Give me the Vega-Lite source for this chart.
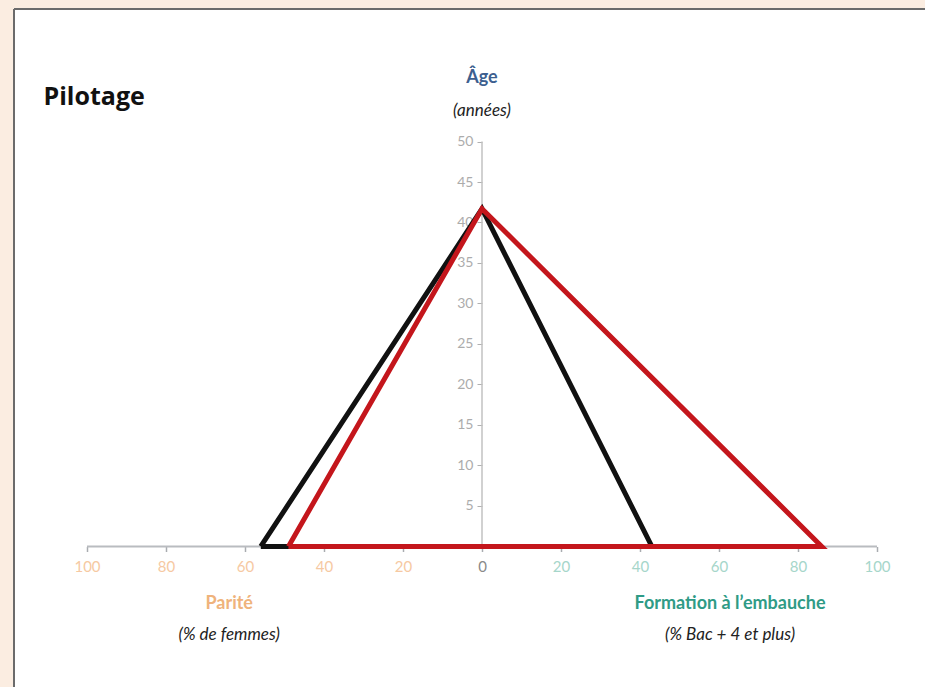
{
  "$schema": "https://vega.github.io/schema/vega-lite/v6.json",
  "width": 911,
  "height": 678,
  "autosize": {"type": "none"},
  "padding": {"left": 14, "top": 9, "right": 0, "bottom": 0},
  "background": "#fbede1",
  "view": {"fill": "white", "stroke": null},
  "config": {"font": "Lato"},
  "datasets": {
    "tri": [
      {"serie": "Référence", "i": 0, "x": -56, "y": 0},
      {"serie": "Référence", "i": 1, "x": 0, "y": 41.7},
      {"serie": "Référence", "i": 2, "x": 43, "y": 0},
      {"serie": "Référence", "i": 3, "x": -56, "y": 0},
      {"serie": "Pilotage", "i": 0, "x": -49, "y": 0},
      {"serie": "Pilotage", "i": 1, "x": 0, "y": 41.7},
      {"serie": "Pilotage", "i": 2, "x": 86, "y": 0},
      {"serie": "Pilotage", "i": 3, "x": -49, "y": 0}
    ],
    "titre": [{"t": "Pilotage", "x": -111, "y": 55.5}],
    "age": [{"t": "Âge", "x": 0, "y": 57.9}],
    "parite": [{"t": "Parité", "x": -64, "y": -7.1}],
    "formation": [{"t": "Formation à l’embauche", "x": 62.8, "y": -7.1}],
    "subs": [
      {"t": "(années)", "x": 0, "y": 53.8},
      {"t": "(% de femmes)", "x": -64, "y": -10.9},
      {"t": "(% Bac + 4 et plus)", "x": 62.8, "y": -10.9}
    ],
    "hline": [{"x": -100, "x2": 100, "y": 0}],
    "vline": [{"x": 0, "y": 0, "y2": 50}],
    "cadreH": [{"x": -118.48, "x2": 112.15, "y": 66.36}],
    "cadreV": [{"x": -118.48, "y": -17.35, "y2": 66.36}]
  },
  "layer": [
    {
      "data": {"name": "hline"},
      "mark": {"type": "rule", "color": "#b9bcc0", "strokeWidth": 2},
      "encoding": {
        "x": {"field": "x", "type": "quantitative", "scale": {"domain": [-118.48, 112.15], "nice": false, "zero": false},
          "axis": {"orient": "bottom", "offset": -140.5, "domain": false, "grid": false,
            "values": [-100, -80, -60, -40, -20, 0, 20, 40, 60, 80, 100],
            "labelExpr": "abs(datum.value)", "labelFontSize": 15, "labelPadding": 8,
            "tickColor": "#a9acb0", "tickSize": 5, "tickWidth": 1.5, "title": null,
            "labelColor": {"condition": [{"test": "datum.value < 0", "value": "#f6c9a2"}, {"test": "datum.value == 0", "value": "#8a8a8a"}], "value": "#a6d6ca"}}},
        "x2": {"field": "x2"},
        "y": {"field": "y", "type": "quantitative", "scale": {"domain": [-17.35, 66.36], "nice": false, "zero": false},
          "axis": {"orient": "left", "offset": -468, "domain": false, "grid": false,
            "values": [5, 10, 15, 20, 25, 30, 35, 40, 45, 50],
            "labelFontSize": 14, "labelColor": "#acacac", "labelPadding": 4,
            "tickColor": "#b0b0b0", "tickSize": 5, "title": null}}
      }
    },
    {
      "data": {"name": "cadreH"},
      "mark": {"type": "rule", "color": "#6b6b6b", "strokeWidth": 2},
      "encoding": {
        "x": {"field": "x", "type": "quantitative"},
        "x2": {"field": "x2"},
        "y": {"field": "y", "type": "quantitative"}
      }
    },
    {
      "data": {"name": "cadreV"},
      "mark": {"type": "rule", "color": "#6b6b6b", "strokeWidth": 2},
      "encoding": {
        "x": {"field": "x", "type": "quantitative"},
        "y": {"field": "y", "type": "quantitative"},
        "y2": {"field": "y2"}
      }
    },
    {
      "data": {"name": "vline"},
      "mark": {"type": "rule", "color": "#c2c2c2", "strokeWidth": 1.5},
      "encoding": {
        "x": {"field": "x", "type": "quantitative"},
        "y": {"field": "y", "type": "quantitative"},
        "y2": {"field": "y2"}
      }
    },
    {
      "data": {"name": "tri"},
      "mark": {"type": "line", "strokeWidth": 5, "strokeJoin": "miter", "strokeCap": "butt"},
      "encoding": {
        "x": {"field": "x", "type": "quantitative"},
        "y": {"field": "y", "type": "quantitative"},
        "order": {"field": "i", "type": "quantitative"},
        "detail": {"field": "serie"},
        "color": {"field": "serie", "type": "nominal", "scale": {"domain": ["Référence", "Pilotage"], "range": ["#111111", "#c4161c"]}, "legend": null}
      }
    },
    {
      "data": {"name": "titre"},
      "mark": {"type": "text", "align": "left", "baseline": "middle", "fontSize": 25, "fontWeight": "bold", "color": "#111111", "font": "Open Sans"},
      "encoding": {"x": {"field": "x", "type": "quantitative"}, "y": {"field": "y", "type": "quantitative"}, "text": {"field": "t"}}
    },
    {
      "data": {"name": "age"},
      "mark": {"type": "text", "align": "center", "baseline": "middle", "fontSize": 18, "fontWeight": "bold", "color": "#3d5f8f"},
      "encoding": {"x": {"field": "x", "type": "quantitative"}, "y": {"field": "y", "type": "quantitative"}, "text": {"field": "t"}}
    },
    {
      "data": {"name": "parite"},
      "mark": {"type": "text", "align": "center", "baseline": "middle", "fontSize": 18, "fontWeight": "bold", "color": "#efb37c"},
      "encoding": {"x": {"field": "x", "type": "quantitative"}, "y": {"field": "y", "type": "quantitative"}, "text": {"field": "t"}}
    },
    {
      "data": {"name": "formation"},
      "mark": {"type": "text", "align": "center", "baseline": "middle", "fontSize": 18, "fontWeight": "bold", "color": "#2f9b86"},
      "encoding": {"x": {"field": "x", "type": "quantitative"}, "y": {"field": "y", "type": "quantitative"}, "text": {"field": "t"}}
    },
    {
      "data": {"name": "subs"},
      "mark": {"type": "text", "align": "center", "baseline": "middle", "fontSize": 17, "fontStyle": "italic", "color": "#222222"},
      "encoding": {"x": {"field": "x", "type": "quantitative"}, "y": {"field": "y", "type": "quantitative"}, "text": {"field": "t"}}
    }
  ]
}
